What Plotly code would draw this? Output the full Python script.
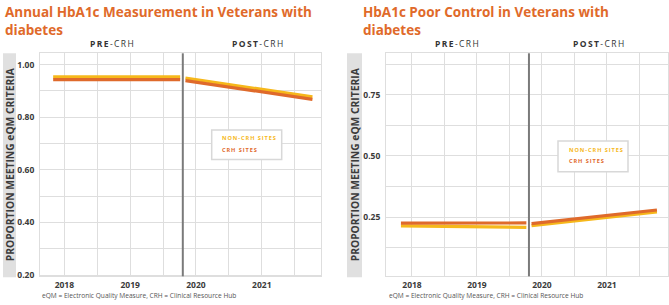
import plotly.graph_objects as go

W, H = 669, 305

# ---- data ----
years = [2018, 2019, 2020, 2021]
pre_x = [2017.83, 2019.76]
post_x = [2019.84, 2021.77]
divider_x = 2019.80

# Annual HbA1c Measurement
a_noncrh_pre = [0.953, 0.953]
a_crh_pre = [0.943, 0.943]
a_noncrh_post = [0.949, 0.877]
a_crh_post = [0.939, 0.868]

# HbA1c Poor Control
p_noncrh_pre = [0.214, 0.208]
p_crh_pre = [0.225, 0.226]
p_noncrh_post = [0.215, 0.271]
p_crh_post = [0.223, 0.279]

left_ticks = [0.20, 0.40, 0.60, 0.80, 1.00]
right_ticks = [0.25, 0.50, 0.75]

titles = ["Annual HbA1c Measurement in Veterans with<br>diabetes",
          "HbA1c Poor Control in Veterans with<br>diabetes"]
ytitle = "PROPORTION MEETING eQM CRITERIA"
footnote = "eQM = Electronic Quality Measure, CRH = Clinical Resource Hub"
series_names = ["NON-CRH SITES", "CRH SITES"]

YELLOW = "#F6B81B"
ORANGE = "#DF6A2B"
TITLE_C = "#E06A2A"
GRID = "#DEDEDE"
FONT = "Open Sans"

def px(x):
    return x / W

def py(y):
    return 1 - y / H

fig = go.Figure()

panels = [
    dict(xa="x", ya="y", data=(a_noncrh_pre, a_crh_pre, a_noncrh_post, a_crh_post)),
    dict(xa="x2", ya="y2", data=(p_noncrh_pre, p_crh_pre, p_noncrh_post, p_crh_post)),
]
for p in panels:
    ny_pre, c_pre, ny_post, c_post = p["data"]
    for xs, ys, col in [(pre_x, ny_pre, YELLOW), (post_x, ny_post, YELLOW),
                        (pre_x, c_pre, ORANGE), (post_x, c_post, ORANGE)]:
        fig.add_trace(go.Scatter(x=xs, y=ys, mode="lines", xaxis=p["xa"], yaxis=p["ya"],
                                 line=dict(color=col, width=3.2), showlegend=False,
                                 hoverinfo="skip"))

ydom = [py(280), py(54)]
axis_common = dict(showgrid=True, gridcolor=GRID, gridwidth=1, zeroline=False,
                   showline=True, linecolor=GRID, linewidth=1, mirror=True, ticks="",
                   tickfont=dict(family=FONT, size=8.5, color="#3a3a3a", weight="bold"))

fig.update_layout(
    width=W, height=H, margin=dict(l=0, r=0, t=0, b=0),
    plot_bgcolor="white", paper_bgcolor="white",
    xaxis=dict(domain=[px(40), px(321)], range=[2017.63, 2021.9], tickvals=years,
               minor=dict(dtick=0.5, tick0=2018, showgrid=True, gridcolor=GRID),
               ticklabelstandoff=0, **axis_common),
    yaxis=dict(domain=ydom, range=[0.195, 1.043], tickvals=left_ticks, tickformat=".2f",
               minor=dict(dtick=0.1, tick0=0.2, showgrid=True, gridcolor=GRID),
               ticklabelstandoff=3, **axis_common),
    xaxis2=dict(domain=[px(386), px(668)], range=[2017.6, 2021.94], tickvals=years,
                anchor="y2",
                minor=dict(dtick=0.5, tick0=2018, showgrid=True, gridcolor=GRID),
                ticklabelstandoff=0, **axis_common),
    yaxis2=dict(domain=ydom, range=[0.008, 0.919], tickvals=right_ticks, tickformat=".2f",
                anchor="x2",
                minor=dict(dtick=0.125, tick0=0, showgrid=True, gridcolor=GRID),
                ticklabelstandoff=3, **axis_common),
)

shapes = []
annotations = []

def spaced(s, sep="\u200a"):
    return sep.join(list(s))

for i, (xa, band, title_x, legbox, legtext_x, hdr_pre, hdr_post, fn_x) in enumerate([
    ("x", (3, 16), 3, (211.7, 281.7, 131.7, 161.7), 220, 112, 257, 40),
    ("x2", (347, 362), 361, (558, 628, 143, 174), 566.5, 457, 598, 386.5),
]):
    # divider
    shapes.append(dict(type="line", xref=xa, yref=("y domain" if i == 0 else "y2 domain"),
                       x0=divider_x, x1=divider_x, y0=0, y1=1,
                       line=dict(color="#7a7a7a", width=2)))
    # gray band for y title
    shapes.append(dict(type="rect", xref="paper", yref="paper", x0=px(band[0]), x1=px(band[1]),
                       y0=py(281), y1=py(54), fillcolor="#E0E0E0", line=dict(width=0), layer="below"))
    annotations.append(dict(text="<b>" + ytitle + "</b>", xref="paper", yref="paper",
                            x=px((band[0] + band[1]) / 2), y=py(167), textangle=-90,
                            showarrow=False, xanchor="center", yanchor="middle",
                            font=dict(family=FONT, size=10.3, color="#3c3c3c")))
    # title
    annotations.append(dict(text="<b>" + titles[i] + "</b>", xref="paper", yref="paper",
                            x=px(title_x), y=py(1), xanchor="left", yanchor="top", align="left",
                            showarrow=False,
                            font=dict(family=FONT, size=13.5, color=TITLE_C)))
    # headers
    for cx, word in [(hdr_pre, "PRE"), (hdr_post, "POST")]:
        annotations.append(dict(text="<b>" + spaced(word, "\u2009") + "</b>" + "\u2009" +
                                spaced("-CRH", "\u2009"),
                                xref="paper", yref="paper", x=px(cx), y=py(44),
                                xanchor="center", yanchor="middle", showarrow=False,
                                font=dict(family=FONT, size=8.5, color="#333333")))
    # legend box
    x0, x1, y0, y1 = legbox
    shapes.append(dict(type="rect", xref="paper", yref="paper", x0=px(x0), x1=px(x1),
                       y0=py(y1), y1=py(y0), fillcolor="white",
                       line=dict(color="#D8D8D8", width=1.5)))
    for k, (name, col) in enumerate(zip(series_names, [YELLOW, ORANGE])):
        annotations.append(dict(text="<b>" + spaced(name, "\u2009") + "</b>", xref="paper", yref="paper",
                                x=px(legtext_x), y=py(y0 + 8.5 + 11.5 * k),
                                xanchor="left", yanchor="middle", showarrow=False,
                                font=dict(family=FONT, size=5.6, color=col)))
    # footnote
    annotations.append(dict(text=footnote, xref="paper", yref="paper", x=px(fn_x), y=py(299),
                            xanchor="left", yanchor="middle", showarrow=False,
                            font=dict(family=FONT, size=6.6, color="#555555")))

fig.update_layout(shapes=shapes, annotations=annotations)
fig.write_html("out.html")
